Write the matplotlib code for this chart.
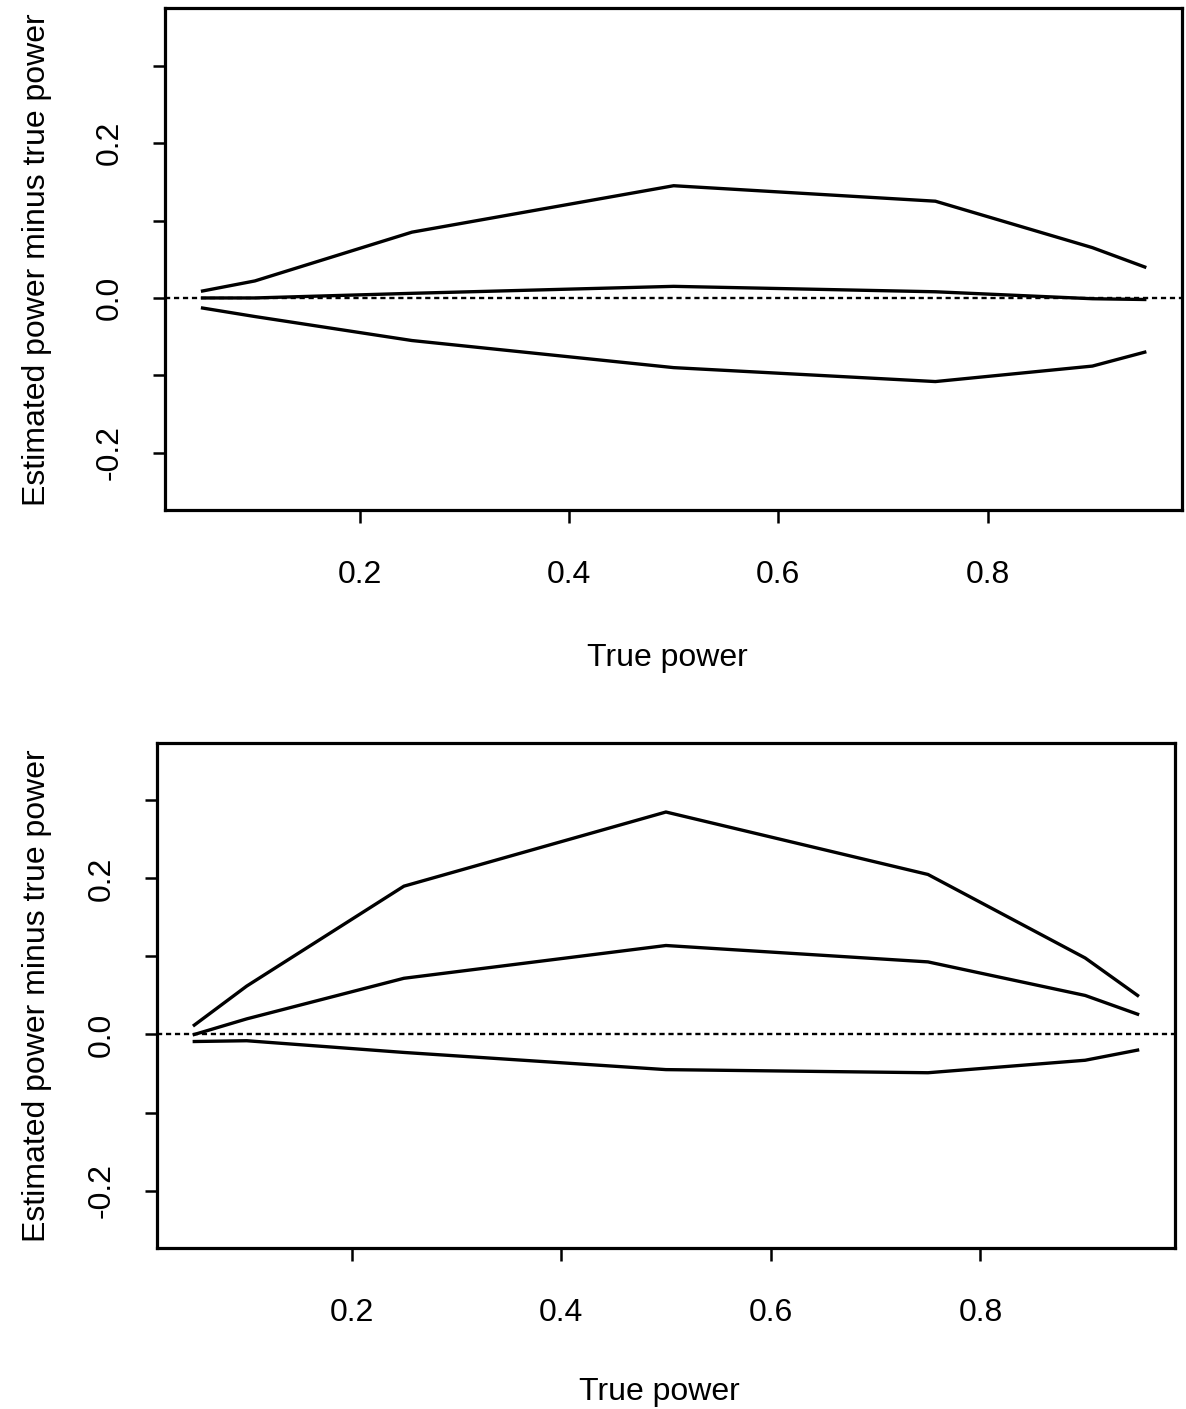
import matplotlib
matplotlib.use("Agg")
import matplotlib.pyplot as plt

# true power at which each simulation was run
TRUE_POWER = [0.05, 0.1, 0.25, 0.5, 0.75, 0.9, 0.95]

# top panel: upper / middle / lower curves of (estimated - true) power
TOP_UPPER = [0.009, 0.022, 0.085, 0.145, 0.125, 0.065, 0.040]
TOP_MIDDLE = [0.000, 0.000, 0.006, 0.015, 0.008, -0.001, -0.002]
TOP_LOWER = [-0.013, -0.024, -0.055, -0.090, -0.108, -0.088, -0.070]

# bottom panel
BOT_UPPER = [0.012, 0.062, 0.190, 0.285, 0.205, 0.098, 0.050]
BOT_MIDDLE = [0.000, 0.020, 0.072, 0.114, 0.093, 0.050, 0.026]
BOT_LOWER = [-0.009, -0.008, -0.023, -0.045, -0.049, -0.033, -0.020]

X_TICKS = [0.2, 0.4, 0.6, 0.8]
Y_TICKS = [-0.2, -0.1, 0.0, 0.1, 0.2, 0.3]
Y_TICK_LABELS = ["-0.2", "", "0.0", "", "0.2", ""]

XLABEL = "True power"
YLABEL = "Estimated power minus true power"

plt.rcParams["font.family"] = ["Liberation Sans", "DejaVu Sans"]
FS = 23

fig = plt.figure(figsize=(11.86, 14.09), dpi=100)

# axes boxes in figure fractions
panels = [
    ([0.139, 0.638, 0.858, 0.356], (TOP_UPPER, TOP_MIDDLE, TOP_LOWER), -0.111, -0.265),
    ([0.132, 0.114, 0.859, 0.359], (BOT_UPPER, BOT_MIDDLE, BOT_LOWER), -0.103, -0.255),
]

for rect, curves, ylab_x, xlab_y in panels:
    ax = fig.add_axes(rect)
    for ys in curves:
        ax.plot(TRUE_POWER, ys, color="black", linewidth=2.4, solid_joinstyle="miter")
    ax.axhline(0.0, color="black", linewidth=1.7, linestyle=(0, (2.2, 1.6)))

    ax.set_xlim(0.014, 0.986)
    ax.set_ylim(-0.274, 0.374)
    ax.set_xticks(X_TICKS)
    ax.set_xticklabels([f"{t:.1f}" for t in X_TICKS])
    ax.set_yticks(Y_TICKS)
    ax.set_yticklabels(Y_TICK_LABELS, rotation=90, va="center")

    ax.tick_params(axis="both", direction="out", length=9, width=1.8,
                   labelsize=FS, colors="black")
    ax.tick_params(axis="x", pad=27)
    ax.tick_params(axis="y", pad=20)

    for spine in ax.spines.values():
        spine.set_linewidth(2.3)

    ax.set_xlabel(XLABEL, fontsize=FS)
    ax.set_ylabel(YLABEL, fontsize=FS)
    ax.xaxis.set_label_coords(0.494, xlab_y)
    ax.yaxis.set_label_coords(ylab_x, 0.5)

fig.savefig("out.png", dpi=100)
